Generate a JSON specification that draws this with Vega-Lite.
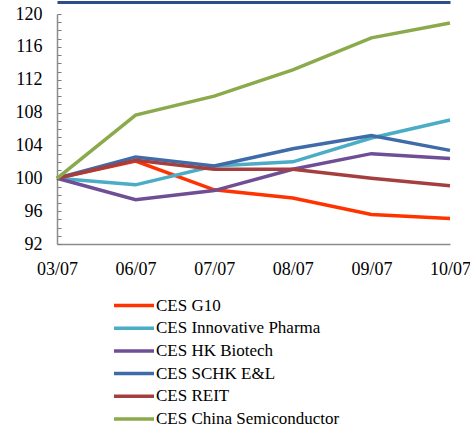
{
  "$schema": "https://vega.github.io/schema/vega-lite/v6.json",
  "width": 393,
  "height": 230,
  "autosize": {"type": "none"},
  "padding": {"left": 57, "top": 14, "right": 20, "bottom": 186},
  "background": "white",
  "config": {
    "view": {"stroke": null},
    "font": "Liberation Serif",
    "axis": {"grid": false, "labelFont": "Liberation Serif", "labelColor": "black", "domainColor": "#8c8c8c", "tickColor": "#8c8c8c"},
    "axisY": {"labelOverlap": false, "tickSize": -4, "labelPadding": 20, "labelFontSize": 18, "labelFont": "Liberation Serif"},
    "axisX": {"labelFont": "Liberation Serif", "labelFontSize": 18}
  },
  "data": {
    "values": [
      {"date": "03/07", "series": "CES G10", "value": 100},
      {"date": "06/07", "series": "CES G10", "value": 102.1},
      {"date": "07/07", "series": "CES G10", "value": 98.6},
      {"date": "08/07", "series": "CES G10", "value": 97.6},
      {"date": "09/07", "series": "CES G10", "value": 95.6},
      {"date": "10/07", "series": "CES G10", "value": 95.1},
      {"date": "03/07", "series": "CES Innovative Pharma", "value": 100},
      {"date": "06/07", "series": "CES Innovative Pharma", "value": 99.2},
      {"date": "07/07", "series": "CES Innovative Pharma", "value": 101.5},
      {"date": "08/07", "series": "CES Innovative Pharma", "value": 102.0},
      {"date": "09/07", "series": "CES Innovative Pharma", "value": 104.9},
      {"date": "10/07", "series": "CES Innovative Pharma", "value": 107.1},
      {"date": "03/07", "series": "CES HK Biotech", "value": 100},
      {"date": "06/07", "series": "CES HK Biotech", "value": 97.4},
      {"date": "07/07", "series": "CES HK Biotech", "value": 98.5},
      {"date": "08/07", "series": "CES HK Biotech", "value": 101.1},
      {"date": "09/07", "series": "CES HK Biotech", "value": 103.0},
      {"date": "10/07", "series": "CES HK Biotech", "value": 102.4},
      {"date": "03/07", "series": "CES SCHK E&L", "value": 100},
      {"date": "06/07", "series": "CES SCHK E&L", "value": 102.6},
      {"date": "07/07", "series": "CES SCHK E&L", "value": 101.5},
      {"date": "08/07", "series": "CES SCHK E&L", "value": 103.6},
      {"date": "09/07", "series": "CES SCHK E&L", "value": 105.2},
      {"date": "10/07", "series": "CES SCHK E&L", "value": 103.4},
      {"date": "03/07", "series": "CES REIT", "value": 100},
      {"date": "06/07", "series": "CES REIT", "value": 102.2},
      {"date": "07/07", "series": "CES REIT", "value": 101.1},
      {"date": "08/07", "series": "CES REIT", "value": 101.1},
      {"date": "09/07", "series": "CES REIT", "value": 100.0},
      {"date": "10/07", "series": "CES REIT", "value": 99.1},
      {"date": "03/07", "series": "CES China Semiconductor", "value": 100},
      {"date": "06/07", "series": "CES China Semiconductor", "value": 107.7},
      {"date": "07/07", "series": "CES China Semiconductor", "value": 110.0},
      {"date": "08/07", "series": "CES China Semiconductor", "value": 113.2},
      {"date": "09/07", "series": "CES China Semiconductor", "value": 117.1},
      {"date": "10/07", "series": "CES China Semiconductor", "value": 118.9}
    ]
  },
  "resolve": {"axis": {"x": "independent"}},
  "encoding": {
    "y": {
      "field": "value", "type": "quantitative",
      "scale": {"domain": [92, 120], "nice": false, "zero": false},
      "axis": {
        "title": null,
        "values": [92,92.5,93,93.5,94,94.5,95,95.5,96,96.5,97,97.5,98,98.5,99,99.5,100,100.5,101,101.5,102,102.5,103,103.5,104,104.5,105,105.5,106,106.5,107,107.5,108,108.5,109,109.5,110,110.5,111,111.5,112,112.5,113,113.5,114,114.5,115,115.5,116,116.5,117,117.5,118,118.5,119,119.5,120],
        "labelExpr": "datum.value % 4 === 0 ? datum.label : ''",
        "format": "d",
        "tickSize": -4,
        "tickColor": "#7a7a7a",
        "labelPadding": 19,
        "labelFontSize": 18,
        "labelFont": "Liberation Serif",
        "labelOverlap": false,
        "domainWidth": 1.5
      }
    }
  },
  "layer": [
    {
      "mark": {"type": "line", "strokeWidth": 3.5},
      "encoding": {
        "x": {
          "field": "date", "type": "ordinal", "scale": {"type": "point", "padding": 0},
          "axis": {"orient": "bottom", "title": null, "labelAngle": 0, "ticks": false, "labelFontSize": 18, "labelFont": "Liberation Serif", "labelPadding": 16, "domainWidth": 1.5}
        },
        "color": {
          "field": "series", "type": "nominal",
          "scale": {
            "domain": ["CES G10", "CES Innovative Pharma", "CES HK Biotech", "CES SCHK E&L", "CES REIT", "CES China Semiconductor"],
            "range": ["#ff3300", "#4bacc6", "#6e4f96", "#3f6ba8", "#a53f3f", "#8baa4b"]
          },
          "legend": {
            "orient": "none", "legendX": 55, "legendY": 283, "title": null, "direction": "vertical",
            "symbolType": "stroke", "symbolSize": 1600, "symbolStrokeWidth": 3.5,
            "clipHeight": 17,
            "labelFontSize": 17, "labelFont": "Liberation Serif", "labelColor": "black", "labelOffset": 0, "labelLimit": 400,
            "rowPadding": 4.7, "padding": 0
          }
        }
      }
    },
    {
      "mark": {"type": "line", "opacity": 0},
      "encoding": {
        "x": {
          "field": "date", "type": "ordinal",
          "axis": {"orient": "top", "title": null, "labels": false, "ticks": false, "domainColor": "#2d4e8a", "domainWidth": 3, "offset": 12}
        },
        "detail": {"field": "series"}
      }
    }
  ]
}
